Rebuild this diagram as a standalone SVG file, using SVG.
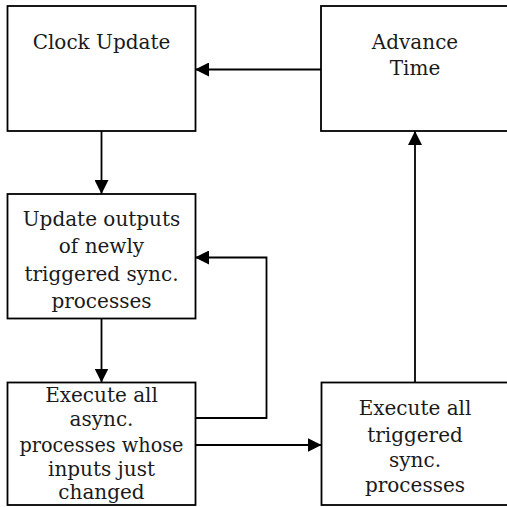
<svg xmlns="http://www.w3.org/2000/svg" width="507" height="507" viewBox="0 0 507 507">
<style>
.box{fill:#fff;stroke:#000;stroke-width:1.8}
.t{font-family:"DejaVu Serif",serif;font-size:20px;fill:#1a1a1a;text-anchor:middle}
.c{fill:none;stroke:#000;stroke-width:1.8}
</style>
<defs>
<marker id="ah" viewBox="0 0 14 14" refX="14" refY="7" markerWidth="14" markerHeight="14" markerUnits="userSpaceOnUse" orient="auto">
<path d="M0,0 L14,7 L0,14 Z" fill="#000"/>
</marker>
</defs>
<rect width="507" height="507" fill="#fff"/>
<g id="connectors">
<path class="c" d="M321,69.5 H195" marker-end="url(#ah)"/>
<path class="c" d="M101.5,131 V194" marker-end="url(#ah)"/>
<path class="c" d="M101.5,318.5 V382.5" marker-end="url(#ah)"/>
<path class="c" d="M195,418 H266.5 V257.5 H195" marker-end="url(#ah)"/>
<path class="c" d="M195,445 H321.5" marker-end="url(#ah)"/>
<path class="c" d="M415,382.5 V131" marker-end="url(#ah)"/>
</g>
<g id="clock">
<rect class="box" x="7.5" y="6" width="188" height="125"/>
<text class="t" x="101.5" y="49">Clock Update</text>
</g>
<g id="advance">
<rect class="box" x="321" y="6" width="190" height="125"/>
<text class="t" x="415" y="48.5">Advance</text>
<text class="t" x="415" y="75">Time</text>
</g>
<g id="update">
<rect class="box" x="7.5" y="194" width="188" height="124.5"/>
<text class="t" x="101.5" y="226">Update outputs</text>
<text class="t" x="101.5" y="253.3">of newly</text>
<text class="t" x="101.5" y="281">triggered sync.</text>
<text class="t" x="101.5" y="308">processes</text>
</g>
<g id="async">
<rect class="box" x="7.5" y="382.5" width="188" height="122.5"/>
<text class="t" x="101.5" y="401.5">Execute all</text>
<text class="t" x="101.5" y="426">async.</text>
<text class="t" x="101.5" y="451.5" textLength="164" lengthAdjust="spacingAndGlyphs">processes whose</text>
<text class="t" x="101.5" y="476">inputs just</text>
<text class="t" x="101.5" y="498.5">changed</text>
</g>
<g id="sync">
<rect class="box" x="321.5" y="382.5" width="190" height="122.5"/>
<text class="t" x="415" y="415">Execute all</text>
<text class="t" x="415" y="441.5">triggered</text>
<text class="t" x="415" y="466.5">sync.</text>
<text class="t" x="415" y="491.5">processes</text>
</g>
</svg>
